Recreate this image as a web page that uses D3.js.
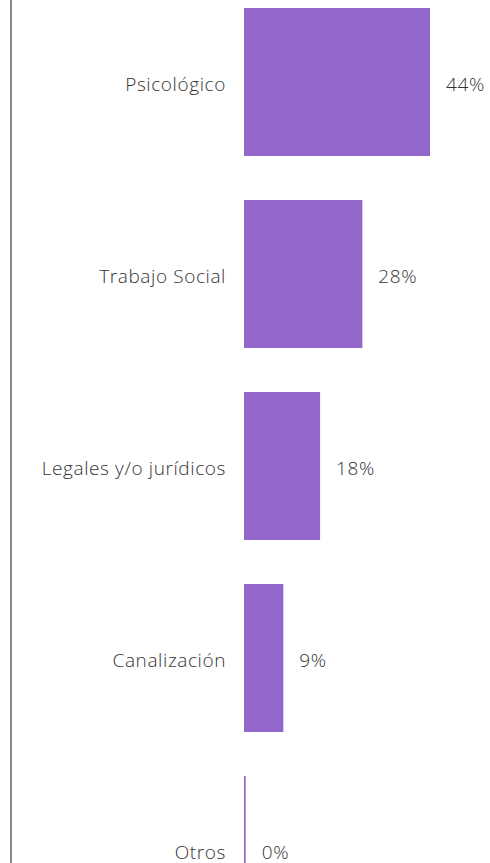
<!DOCTYPE html>
<html><head><meta charset="utf-8">
<script src="https://cdn.jsdelivr.net/npm/d3@7"></script>
<style>html,body{margin:0;padding:0;background:#fff;overflow:hidden}</style>
</head><body>
<svg id="c" width="490" height="863"></svg>
<script>
const categories = ["Psicológico", "Trabajo Social", "Legales y/o jurídicos", "Canalización", "Otros"];
const values = [44, 28, 18, 9.3, 0.4];
const valueLabels = ["44%", "28%", "18%", "9%", "0%"];

const svg = d3.select("#c");
const x = d3.scaleLinear().domain([0, 44]).range([244, 430]);
const y = d3.scaleBand().domain(categories).range([-14, 946]).paddingInner(44/192).paddingOuter(22/192);

svg.append("line").attr("x1", 11).attr("x2", 11).attr("y1", 0).attr("y2", 863)
  .attr("stroke", "#8a8a8a").attr("stroke-width", 2);

const g = svg.selectAll("g.bar").data(categories).join("g").attr("class", "bar");
g.append("rect")
  .attr("x", x(0))
  .attr("y", d => y(d))
  .attr("width", (d, i) => Math.max(1, x(values[i]) - x(0)))
  .attr("height", y.bandwidth())
  .attr("fill", "#9366cc");

const font = "'Open Sans', sans-serif";
g.append("text")
  .attr("x", 226)
  .attr("y", d => y(d) + y.bandwidth()/2 + 2)
  .attr("dy", "0.35em")
  .attr("text-anchor", "end")
  .attr("font-family", font).attr("font-weight", 300).attr("font-size", 19)
  .attr("letter-spacing", "0.6px")
  .attr("fill", "#333")
  .text(d => d);

g.append("text")
  .attr("x", (d, i) => x(values[i]) + 16)
  .attr("y", d => y(d) + y.bandwidth()/2 + 2)
  .attr("dy", "0.35em")
  .attr("font-family", font).attr("font-weight", 300).attr("font-size", 19)
  .attr("letter-spacing", "0.6px")
  .attr("fill", "#333")
  .text((d, i) => valueLabels[i]);
</script>
</body></html>
